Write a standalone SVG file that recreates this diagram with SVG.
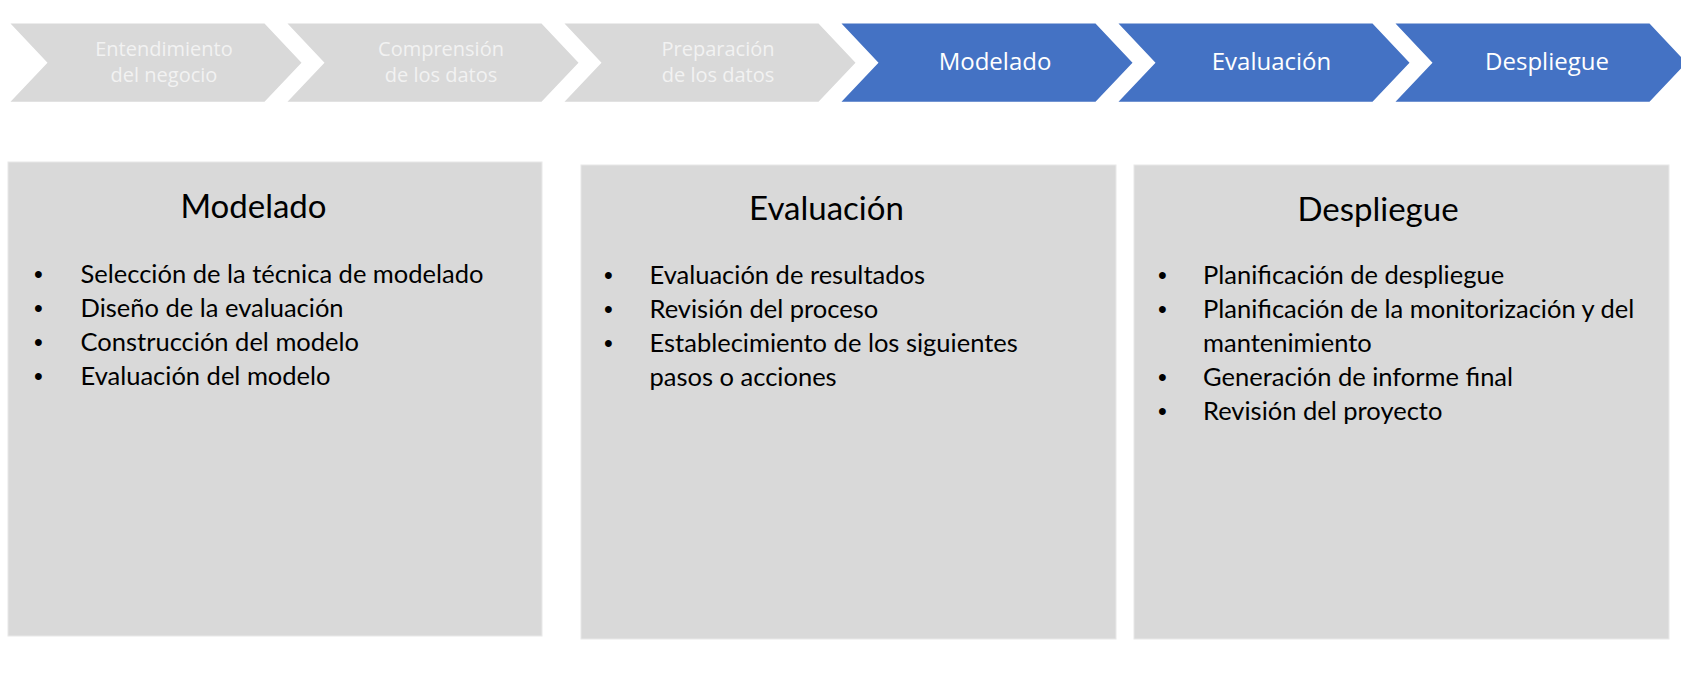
<svg xmlns="http://www.w3.org/2000/svg" width="1681" height="678" viewBox="0 0 1681 678">
<style>
.chev-g{fill:#d9d9d9}
.chev-b{fill:#4472c4}
.ct{font-family:"Open Sans",sans-serif;text-anchor:middle}
.ct-g{fill:#f2f2f2;font-size:20px}
.ct-b{fill:#ffffff;font-size:24px}
.box{fill:#d9d9d9;stroke:#e8e8e8;stroke-width:1}
.title{font-family:Lato,"Liberation Sans",sans-serif;font-size:33px;fill:#000;text-anchor:middle}
.li{font-family:Lato,"Liberation Sans",sans-serif;font-size:25.5px;fill:#000}
.bu{font-family:"Liberation Sans",sans-serif;font-size:25px;fill:#000}
</style>
<rect width="1681" height="678" fill="#ffffff"/>
<g id="chev1">
<polygon class="chev-g" points="10.5,23.6 264.5,23.6 301.5,62.7 264.5,101.8 10.5,101.8 47.5,62.7"/>
<text class="ct ct-g" x="164" y="56">Entendimiento</text>
<text class="ct ct-g" x="164" y="82">del negocio</text>
</g>
<g id="chev2">
<polygon class="chev-g" points="287.5,23.6 541.5,23.6 578.5,62.7 541.5,101.8 287.5,101.8 324.5,62.7"/>
<text class="ct ct-g" x="441" y="56">Comprensión</text>
<text class="ct ct-g" x="441" y="82">de los datos</text>
</g>
<g id="chev3">
<polygon class="chev-g" points="564.5,23.6 818.5,23.6 855.5,62.7 818.5,101.8 564.5,101.8 601.5,62.7"/>
<text class="ct ct-g" x="718" y="56">Preparación</text>
<text class="ct ct-g" x="718" y="82">de los datos</text>
</g>
<g id="chev4">
<polygon class="chev-b" points="841.5,23.6 1095.5,23.6 1132.5,62.7 1095.5,101.8 841.5,101.8 878.5,62.7"/>
<text class="ct ct-b" x="995" y="69.5">Modelado</text>
</g>
<g id="chev5">
<polygon class="chev-b" points="1118.5,23.6 1372.5,23.6 1409.5,62.7 1372.5,101.8 1118.5,101.8 1155.5,62.7"/>
<text class="ct ct-b" x="1271.5" y="69.5">Evaluación</text>
</g>
<g id="chev6">
<polygon class="chev-b" points="1395.5,23.6 1649.5,23.6 1686.5,62.7 1649.5,101.8 1395.5,101.8 1432.5,62.7"/>
<text class="ct ct-b" x="1547" y="69.5">Despliegue</text>
</g>
<g id="box-modelado">
<rect class="box" x="8" y="162" width="534" height="474"/>
<text class="title" x="253.5" y="218">Modelado</text>
<text class="bu" x="34" y="283">•</text><text class="li" x="80.5" y="283">Selección de la técnica de modelado</text>
<text class="bu" x="34" y="317">•</text><text class="li" x="80.5" y="317">Diseño de la evaluación</text>
<text class="bu" x="34" y="351">•</text><text class="li" x="80.5" y="351">Construcción del modelo</text>
<text class="bu" x="34" y="385">•</text><text class="li" x="80.5" y="385">Evaluación del modelo</text>
</g>
<g id="box-evaluacion">
<rect class="box" x="581" y="165" width="535" height="474"/>
<text class="title" x="826.5" y="220">Evaluación</text>
<text class="bu" x="604" y="284">•</text><text class="li" x="649.5" y="284">Evaluación de resultados</text>
<text class="bu" x="604" y="318">•</text><text class="li" x="649.5" y="318">Revisión del proceso</text>
<text class="bu" x="604" y="352">•</text><text class="li" x="649.5" y="352">Establecimiento de los siguientes</text>
<text class="li" x="649.5" y="386">pasos o acciones</text>
</g>
<g id="box-despliegue">
<rect class="box" x="1134" y="165" width="535" height="474"/>
<text class="title" x="1378" y="221">Despliegue</text>
<text class="bu" x="1158" y="284">•</text><text class="li" x="1203" y="284">Planificación de despliegue</text>
<text class="bu" x="1158" y="318">•</text><text class="li" x="1203" y="318">Planificación de la monitorización y del</text>
<text class="li" x="1203" y="352">mantenimiento</text>
<text class="bu" x="1158" y="386">•</text><text class="li" x="1203" y="386">Generación de informe final</text>
<text class="bu" x="1158" y="420">•</text><text class="li" x="1203" y="420">Revisión del proyecto</text>
</g>
<g id="connectors"></g>
</svg>
